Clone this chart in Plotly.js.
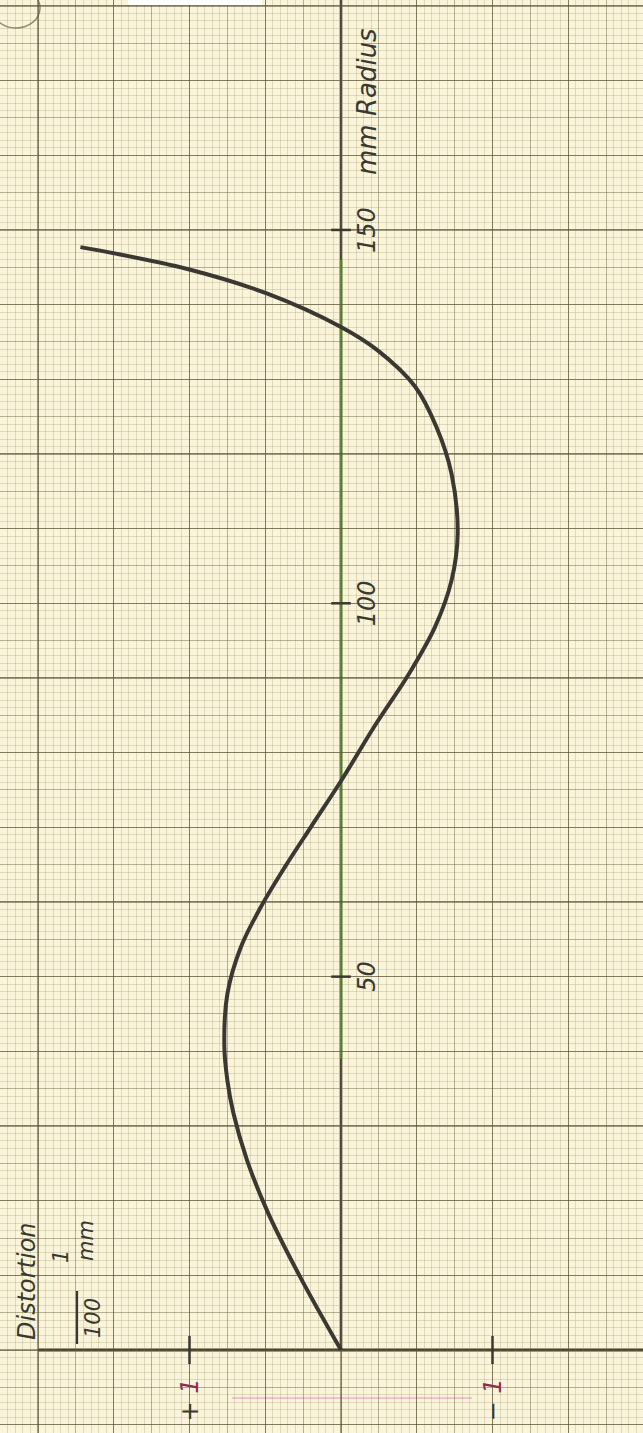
<!DOCTYPE html>
<html><head><meta charset="utf-8">
<script src="https://cdn.plot.ly/plotly-3.0.1.min.js"></script>
<style>html,body{margin:0;padding:0;background:#f9f4da;}#chart{width:643px;height:1433px;}</style>
</head><body><div id="chart"></div>
<script>
// ---- data (radius in mm, distortion in 1/100 mm) ----
const radius = [0, 9.8, 18.3, 25.4, 31.7, 36.1, 40.6, 47.7, 54.0, 59.3, 64.7, 70.0, 76.2, 83.5, 90.6, 96.8, 103.1, 109.3, 117.3, 123.6, 129.0, 133.9, 137.0, 141.5, 144.8, 147.0, 147.7];
const distortion = [0, 0.27, 0.48, 0.62, 0.71, 0.75, 0.77, 0.75, 0.66, 0.53, 0.37, 0.20, 0.0, -0.22, -0.45, -0.62, -0.73, -0.77, -0.73, -0.63, -0.49, -0.24, 0.0, 0.49, 1.02, 1.53, 1.72];
const radiusTickVals = [50, 100, 150];
const radiusTickText = ['50', '100', '150'];
const distTickVals = [1, -1];
const distTickText = ['+ <span style="color:#8e2c55">1</span>', '− <span style="color:#8e2c55">1</span>'];
const radiusTitle = 'mm Radius';
const distTitle = 'Distortion';
const unitNum = '1', unitDen = '100', unitTail = 'mm';

// ---- geometry ----
const W = 643, H = 1433;
const X0PX = 341, XPU = 151.5, Y0PX = 1350, YPM = 7.467;
const xRange = [X0PX / XPU, (X0PX - W) / XPU];
const yRange = [(Y0PX - H) / YPM, Y0PX / YPM];
const px = v => v / W, py = v => 1 - v / H;

const ink = '#3a382f';
const FONT = {family: 'DejaVu Sans, sans-serif', color: ink, style: 'italic'};
const f = s => Object.assign({}, FONT, {size: s});

const baseAx = {showticklabels: false, zeroline: false, showline: false, ticks: '', fixedrange: true};

const traces = [
  {x: distortion, y: radius, mode: 'lines', line: {color: '#3b3833', width: 4, shape: 'spline', smoothing: 1},
   hoverinfo: 'skip', showlegend: false},
  {x: distTickVals, y: distTickVals.map(() => 0), mode: 'markers',
   marker: {symbol: 'line-ns', size: 20, line: {width: 2.5, color: ink}}, hoverinfo: 'skip', showlegend: false},
  {x: radiusTickVals.map(() => 0), y: radiusTickVals, mode: 'markers',
   marker: {symbol: 'line-ew', size: 14, line: {width: 2.5, color: ink}}, hoverinfo: 'skip', showlegend: false},
  {x: [0], y: [0], xaxis: 'x2', yaxis: 'y2', mode: 'markers', marker: {opacity: 0}, hoverinfo: 'skip', showlegend: false}
];

const ann = (o) => Object.assign({showarrow: false, textangle: -90, xanchor: 'center', yanchor: 'middle'}, o);
const annotations = [];
radiusTickVals.forEach((v, i) => annotations.push(ann({
  x: 0, y: v, xref: 'x', yref: 'y', text: radiusTickText[i], xshift: 26, font: f(24)
})));
distTickVals.forEach((v, i) => annotations.push(ann({
  x: v, y: 0, xref: 'x', yref: 'y', text: distTickText[i], yshift: -50, font: f(24)
})));
annotations.push(ann({x: px(367), y: py(102), xref: 'paper', yref: 'paper', text: radiusTitle, font: f(26)}));
annotations.push(ann({x: px(27), y: py(1281), xref: 'paper', yref: 'paper', text: distTitle, font: f(24)}));
annotations.push(ann({x: px(61), y: py(1257), xref: 'paper', yref: 'paper', text: unitNum, font: f(21)}));
annotations.push(ann({x: px(93), y: py(1318), xref: 'paper', yref: 'paper', text: unitDen, font: f(21)}));
annotations.push(ann({x: px(86), y: py(1241), xref: 'paper', yref: 'paper', text: unitTail, font: f(21)}));

const shapes = [
  // distortion axis (radius = 0)
  {type: 'line', xref: 'x', yref: 'y', x0: 2.0, x1: xRange[1], y0: 0, y1: 0, layer: 'below', line: {color: ink, width: 3}},
  // radius axis (distortion = 0)
  {type: 'line', xref: 'x', yref: 'y', x0: 0, x1: 0, y0: 0, y1: yRange[1], layer: 'below', line: {color: ink, width: 2.6}},
  {type: 'line', xref: 'x', yref: 'y', x0: 0, x1: 0, y0: 39, y1: 146, layer: 'below', line: {color: '#7cbc50', width: 3}},
  // fraction bar
  {type: 'line', xref: 'paper', yref: 'paper', x0: px(77), x1: px(77), y0: py(1291), y1: py(1344), line: {color: ink, width: 2.2}},
  // faint pink pencil stroke
  {type: 'line', xref: 'paper', yref: 'paper', x0: px(232), x1: px(472), y0: py(1398), y1: py(1398), layer: 'below', line: {color: 'rgba(236,150,205,0.55)', width: 2}},
  // scan marks top-left
  {type: 'circle', xref: 'paper', yref: 'paper', x0: px(-8), x1: px(40), y0: py(28), y1: py(-12), line: {color: 'rgba(95,95,85,0.7)', width: 1.5}},
  {type: 'rect', xref: 'paper', yref: 'paper', x0: px(128), x1: px(262), y0: py(5), y1: py(0), fillcolor: '#ffffff', line: {width: 0}}
];

const layout = {
  width: W, height: H, margin: {l: 0, r: 0, t: 0, b: 0, pad: 0},
  paper_bgcolor: '#f9f4da', plot_bgcolor: '#f9f4da', showlegend: false,
  xaxis: Object.assign({}, baseAx, {range: xRange, tick0: 0, dtick: 0.25, showgrid: true, gridcolor: 'rgba(115,108,70,0.5)', gridwidth: 1,
    minor: {dtick: 0.05, showgrid: true, gridcolor: 'rgba(150,140,95,0.26)', gridwidth: 1}}),
  yaxis: Object.assign({}, baseAx, {range: yRange, tick0: 0, dtick: 5, showgrid: true, gridcolor: 'rgba(115,108,70,0.5)', gridwidth: 1,
    minor: {dtick: 1, showgrid: true, gridcolor: 'rgba(150,140,95,0.26)', gridwidth: 1}}),
  xaxis2: Object.assign({}, baseAx, {overlaying: 'x', range: xRange, tick0: 0, dtick: 0.5, showgrid: true, gridcolor: 'rgba(85,80,50,0.55)', gridwidth: 1.4}),
  yaxis2: Object.assign({}, baseAx, {overlaying: 'y', range: yRange, tick0: 0, dtick: 10, showgrid: true, gridcolor: 'rgba(85,80,50,0.55)', gridwidth: 1.4}),
  annotations: annotations,
  shapes: shapes
};

Plotly.newPlot('chart', traces, layout, {staticPlot: true, displayModeBar: false});
</script>
</body></html>
